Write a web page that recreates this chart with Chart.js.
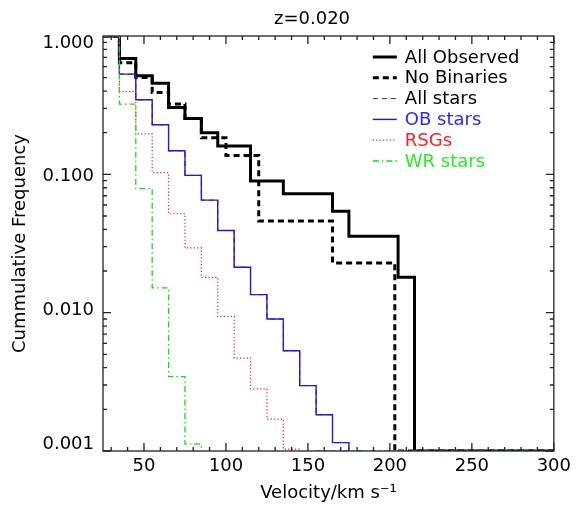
<!DOCTYPE html>
<html><head><meta charset="utf-8">
<script src="https://cdn.jsdelivr.net/npm/chart.js@4.4.1/dist/chart.umd.min.js"></script>
<style>html,body{margin:0;padding:0;background:#fff;}#wrap{width:576px;height:508px;}</style>
</head><body><div id="wrap"><canvas id="c" width="576" height="508"></canvas></div>
<script>
// ---- text ----
const titleText = 'z=0.020';
const xTitle = 'Velocity/km s\u207B\u00B9';
const yTitle = 'Cummulative Frequency';
const xTickValues = [50, 100, 150, 200, 250, 300];
const yTickValues = [0.001, 0.01, 0.1, 1];
const seriesLabels = ['All Observed', 'No Binaries', 'All stars', 'OB stars', 'RSGs', 'WR stars'];
const labelColors = ['#000000', '#000000', '#000000', '#2828ff', '#ff2020', '#22ee22'];

// ---- data: velocity bin edges (km/s) and cumulative frequency from that edge on ----
const allObsV = [25, 35, 45, 55, 65, 75, 85, 95, 115, 135, 165, 175, 205, 215, 300];
const allObsF = [1.0, 0.689, 0.516, 0.456, 0.304, 0.253, 0.200, 0.160, 0.0894, 0.0724, 0.0542, 0.0357, 0.0180, 0.001, 0.001];

const noBinV = [25, 35, 45, 55, 65, 75, 85, 100, 120, 165, 203, 300];
const noBinF = [1.0, 0.641, 0.502, 0.391, 0.322, 0.253, 0.184, 0.137, 0.0459, 0.0229, 0.001, 0.001];

const allStarsV = [25, 35, 45, 55, 65, 75, 85, 95, 105, 115, 125, 135, 145, 155, 165, 175];
const allStarsF = [1.0, 0.530, 0.346, 0.228, 0.148, 0.0983, 0.0651, 0.0393, 0.0213, 0.0135, 0.0090, 0.00531, 0.00297, 0.00183, 0.00115, 0.0001];

const obV = [25, 35, 45, 55, 65, 75, 85, 95, 105, 115, 125, 135, 145, 155, 165, 175];
const obF = [1.0, 0.530, 0.346, 0.228, 0.148, 0.0983, 0.0651, 0.0393, 0.0213, 0.0135, 0.0090, 0.00531, 0.00297, 0.00183, 0.00115, 0.0001];

const rsgV = [25, 35, 45, 55, 65, 75, 85, 95, 105, 115, 125, 135, 145];
const rsgF = [1.0, 0.397, 0.196, 0.103, 0.0519, 0.0294, 0.0180, 0.0094, 0.00470, 0.00281, 0.00170, 0.00103, 0.0001];

const wrV = [25, 35, 45, 55, 65, 75, 85, 120, 155, 300];
const wrF = [1.0, 0.322, 0.0788, 0.0151, 0.00345, 0.00112, 0.0001, null, 0.001, 0.001];

function pts(vs, fs) { return vs.map((v, i) => ({ x: v, y: fs[i] })); }

const datasets = [
  { label: seriesLabels[0], data: pts(allObsV, allObsF), borderColor: '#000000', borderWidth: 3, borderDash: [], order: 6 },
  { label: seriesLabels[1], data: pts(noBinV, noBinF), borderColor: '#000000', borderWidth: 3, borderDash: [6, 4], order: 5 },
  { label: seriesLabels[2], data: pts(allStarsV, allStarsF), borderColor: '#333333', borderWidth: 1, borderDash: [5, 4], order: 4 },
  { label: seriesLabels[3], data: pts(obV, obF), borderColor: 'rgb(40,20,225)', borderWidth: 1.4, borderDash: [], order: 3 },
  { label: seriesLabels[4], data: pts(rsgV, rsgF), borderColor: '#ff1818', borderWidth: 1.2, borderDash: [1.2, 2.2], order: 2 },
  { label: seriesLabels[5], data: pts(wrV, wrF), borderColor: '#11e011', borderWidth: 1.3, borderDash: [6, 3, 1.5, 3], order: 1 }
].map(d => Object.assign(d, { stepped: true, pointRadius: 0, fill: false, tension: 0, spanGaps: false }));

Chart.defaults.font.family = '"DejaVu Sans", sans-serif';
Chart.defaults.font.size = 18;
Chart.defaults.color = '#000000';

const framePlugin = {
  id: 'frame',
  afterDatasetsDraw(chart) {
    const { ctx, chartArea: a, scales: { x, y } } = chart;
    ctx.save();
    ctx.strokeStyle = '#222222';
    ctx.lineWidth = 1.3;
    ctx.setLineDash([]);
    ctx.strokeRect(a.left, a.top, a.right - a.left, a.bottom - a.top);
    ctx.beginPath();
    for (let v = 30; v <= 300; v += 10) {
      const px = x.getPixelForValue(v);
      const len = (v % 50 === 0) ? 8 : 4;
      ctx.moveTo(px, a.bottom); ctx.lineTo(px, a.bottom - len);
      ctx.moveTo(px, a.top); ctx.lineTo(px, a.top + len);
    }
    for (const d of [0.001, 0.01, 0.1]) {
      for (let m = 1; m <= 9; m++) {
        const py = y.getPixelForValue(d * m);
        const len = m === 1 ? 8 : 4;
        ctx.moveTo(a.left, py); ctx.lineTo(a.left + len, py);
        ctx.moveTo(a.right, py); ctx.lineTo(a.right - len, py);
      }
    }
    ctx.stroke();
    ctx.restore();
  }
};

// IDL places the log-axis labels slightly inward of the end ticks
const yLabelSqueeze = {
  id: 'yLabelSqueeze',
  beforeDraw(chart) {
    const y = chart.scales.y;
    const items = y.getLabelItems();
    const c = (y.top + y.bottom) / 2;
    items.forEach(it => {
      if (!it._sq) {
        const t = it.options.translation;
        t[1] = c + (t[1] - c) * 0.967;
        it._sq = true;
      }
    });
  }
};

const legendPlugin = {
  id: 'insideLegend',
  afterDraw(chart) {
    const { ctx, chartArea: a } = chart;
    ctx.save();
    ctx.font = '18px "DejaVu Sans"';
    ctx.textBaseline = 'middle';
    ctx.textAlign = 'left';
    chart.data.datasets.forEach((ds, i) => {
      const yy = a.top + 21 + i * 20.8;
      ctx.strokeStyle = ds.borderColor;
      ctx.lineWidth = ds.borderWidth;
      ctx.setLineDash(ds.borderDash || []);
      ctx.beginPath();
      ctx.moveTo(a.right - 181, yy);
      ctx.lineTo(a.right - 157, yy);
      ctx.stroke();
      ctx.setLineDash([]);
      ctx.fillStyle = labelColors[i];
      ctx.fillText(ds.label, a.right - 149, yy + 1);
    });
    ctx.restore();
  }
};

const titleShift = {
  id: 'titleShift',
  afterLayout(chart) {
    const t = chart.titleBlock;
    if (t) { t.left = 68; t.right = 556; }
  }
};

new Chart(document.getElementById('c'), {
  type: 'line',
  data: { datasets },
  options: {
    responsive: false,
    animation: false,
    devicePixelRatio: 1,
    layout: { padding: { left: 0, right: 19, top: 0, bottom: 0 } },
    plugins: {
      legend: { display: false },
      tooltip: { enabled: false },
      title: { display: true, text: titleText, font: { size: 18, weight: 'normal' }, color: '#000', padding: { top: 9, bottom: 5.4 } }
    },
    scales: {
      x: {
        type: 'linear', min: 25, max: 300,
        afterBuildTicks: s => { s.ticks = xTickValues.map(v => ({ value: v })); },
        afterFit: s => { s.height = 57; },
        ticks: { padding: 5, maxRotation: 0, autoSkip: false, callback: v => String(v) },
        grid: { display: false, drawTicks: false },
        border: { display: false },
        title: { display: true, text: xTitle, padding: { top: 0, bottom: 4 } }
      },
      y: {
        type: 'logarithmic', min: 0.001, max: 1,
        afterBuildTicks: s => { s.ticks = yTickValues.map(v => ({ value: v })); },
        afterFit: s => { s.width = 103; },
        ticks: { padding: 9, autoSkip: false, callback: v => Number(v).toFixed(3) },
        grid: { display: false, drawTicks: false },
        border: { display: false },
        title: { display: true, text: yTitle, padding: { top: 10, bottom: 0 } }
      }
    }
  },
  plugins: [framePlugin, yLabelSqueeze, legendPlugin, titleShift]
});
</script>
</body></html>
